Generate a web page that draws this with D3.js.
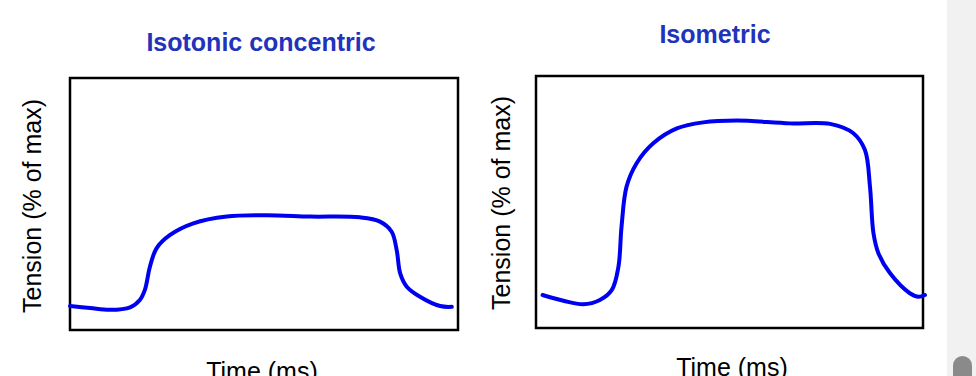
<!DOCTYPE html>
<html>
<head>
<meta charset="utf-8">
<script src="https://cdn.jsdelivr.net/npm/d3@7"></script>
<style>
  body { margin: 0; background: #fff; overflow: hidden; }
  text { font-family: "Liberation Sans", Arial, sans-serif; }
</style>
</head>
<body>
<div id="my_dataviz"></div>
<script>
// curve values: time (0-100 % of box), tension (0-100 % of box)
var isotonicTime    = [0, 5.2, 10.3, 15.5, 18.0, 19.3, 20.6, 22.3, 25.8, 31.8, 40.4, 50.7, 61.9, 74.7, 79.9, 82.9, 84.2, 85.1, 86.8, 90.2, 95.4, 98.4];
var isotonicTension = [9.5, 8.7, 8.0, 9.0, 11.9, 15.9, 25.1, 32.4, 37.7, 42.3, 45.0, 45.5, 45.0, 44.7, 43.0, 39.0, 31.7, 22.5, 17.2, 13.2, 9.5, 9.2];

var isometricTime    = [1.7, 7.1, 12.2, 16.5, 19.6, 21.3, 22.1, 23.4, 26.0, 30.3, 36.4, 43.2, 51.9, 65.6, 76.0, 82.0, 85.0, 86.3, 87.2, 88.5, 91.5, 96.6, 98.8, 100.5];
var isometricTension = [13.1, 10.8, 9.4, 11.1, 15.1, 24.3, 40.2, 56.1, 65.4, 73.3, 79.2, 81.6, 82.3, 81.2, 81.0, 77.3, 70.6, 56.1, 37.6, 29.6, 21.7, 13.8, 12.4, 13.1];

var titles = ["Isotonic concentric", "Isometric"];
var xLabel = "Time (ms)";
var yLabel = "Tension (% of max)";

var W = 976, H = 376;

var svg = d3.select("#my_dataviz")
  .append("svg")
    .attr("width", W)
    .attr("height", H);

// panel boxes (pixel layout)
var panels = [
  {left: 70,  right: 458, top: 78, bottom: 330,
   titleX: 261, titleY: 51, yLabX: 41, yLabY: 206, xLabX: 262, xLabY: 380,
   time: isotonicTime, tension: isotonicTension, title: titles[0]},
  {left: 536, right: 923, top: 76, bottom: 328,
   titleX: 715, titleY: 43, yLabX: 510, yLabY: 203, xLabX: 732, xLabY: 376,
   time: isometricTime, tension: isometricTension, title: titles[1]}
];

panels.forEach(function(p) {
  var x = d3.scaleLinear().domain([0, 100]).range([p.left, p.right]);
  var y = d3.scaleLinear().domain([0, 100]).range([p.bottom, p.top]);

  var g = svg.append("g");

  g.append("rect")
    .attr("x", x(0))
    .attr("y", y(100))
    .attr("width", x(100) - x(0))
    .attr("height", y(0) - y(100))
    .attr("fill", "none")
    .attr("stroke", "#000")
    .attr("stroke-width", 2.5);

  var pts = p.time.map(function(t, i) { return [t, p.tension[i]]; });

  var line = d3.line()
    .x(d => x(d[0]))
    .y(d => y(d[1]))
    .curve(d3.curveCatmullRom.alpha(0.5));

  g.append("path")
    .datum(pts)
    .attr("d", line)
    .attr("fill", "none")
    .attr("stroke", "#0000f0")
    .attr("stroke-width", 4)
    .attr("stroke-linecap", "round")
    .attr("stroke-linejoin", "round");

  g.append("text")
    .attr("x", p.titleX)
    .attr("y", p.titleY)
    .attr("text-anchor", "middle")
    .attr("font-size", 25)
    .attr("font-weight", "bold")
    .attr("fill", "#2233bb")
    .text(p.title);

  g.append("text")
    .attr("transform", "translate(" + p.yLabX + "," + p.yLabY + ") rotate(-90)")
    .attr("text-anchor", "middle")
    .attr("font-size", 25)
    .attr("fill", "#000")
    .text(yLabel);

  // the reference crops these at the bottom edge too
  g.append("text")
    .attr("x", p.xLabX)
    .attr("y", p.xLabY)
    .attr("text-anchor", "middle")
    .attr("font-size", 25)
    .attr("fill", "#000")
    .text(xLabel);
});

// page scrollbar strip seen on the right edge
svg.append("rect")
  .attr("x", 947).attr("y", 0)
  .attr("width", W - 947).attr("height", H)
  .attr("fill", "#f1f1f1");
svg.append("rect")
  .attr("x", 953).attr("y", 356)
  .attr("width", 19).attr("height", 40)
  .attr("rx", 9.5)
  .attr("fill", "#8a8a8a");
</script>
</body>
</html>
